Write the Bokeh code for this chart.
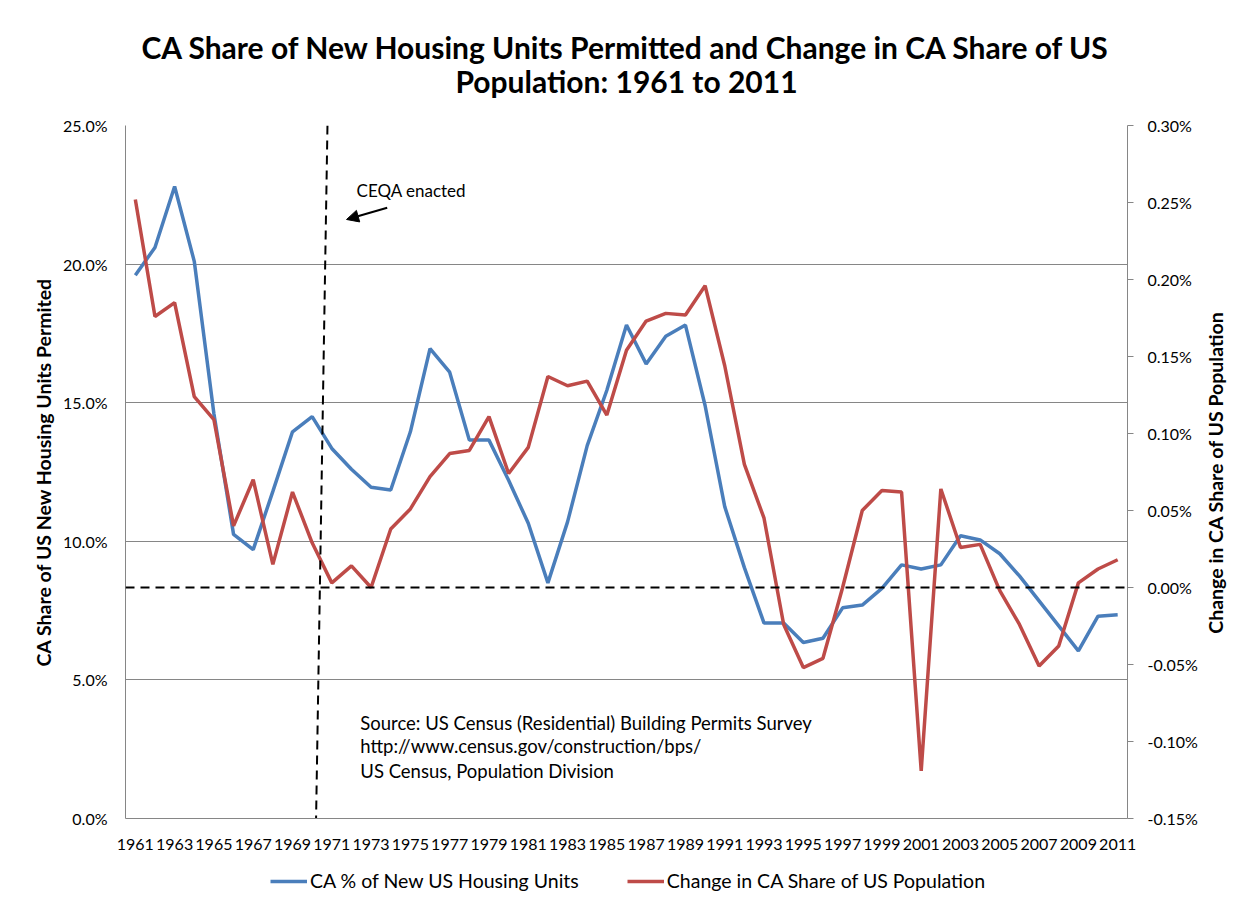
import math
from bokeh.plotting import figure
from bokeh.layouts import column, row
from bokeh.models import (Range1d, LinearAxis, FixedTicker, PrintfTickFormatter, Span, Label,
                          Arrow, NormalHead, Legend, LegendItem)
from bokeh.embed import file_html
from bokeh.resources import INLINE

years = list(range(1961, 2012))
ca_share_permits = [19.6, 20.6, 22.8, 20.1, 14.6, 10.25, 9.7, 11.8, 13.95, 14.5,
                    13.35, 12.6, 11.95, 11.85, 13.95, 16.95, 16.1, 13.65, 13.65, 12.2,
                    10.65, 8.5, 10.7, 13.45, 15.45, 17.8, 16.4, 17.4, 17.8, 14.9,
                    11.25, 9.05, 7.05, 7.05, 6.35, 6.5, 7.6, 7.7, 8.3, 9.15,
                    9.0, 9.15, 10.2, 10.05, 9.55, 8.75, 7.85, 6.95, 6.05, 7.3,
                    7.35]
ca_pop_share_change = [0.252, 0.176, 0.185, 0.124, 0.109, 0.040, 0.070, 0.015, 0.062, 0.029,
                       0.003, 0.014, 0.000, 0.038, 0.051, 0.072, 0.087, 0.089, 0.111, 0.074,
                       0.091, 0.137, 0.131, 0.134, 0.112, 0.154, 0.173, 0.178, 0.177, 0.196,
                       0.144, 0.080, 0.045, -0.024, -0.052, -0.046, 0.000, 0.050, 0.063, 0.062,
                       -0.119, 0.064, 0.026, 0.028, -0.002, -0.024, -0.051, -0.038, 0.003, 0.012,
                       0.018]
x_tick_years = list(range(1961, 2012, 2))
left_ticks = [0, 5, 10, 15, 20, 25]
right_ticks = [-0.15, -0.10, -0.05, 0.0, 0.05, 0.10, 0.15, 0.20, 0.25, 0.30]
series_names = ["CA % of New US Housing Units", "Change in CA Share of US Population"]
title_lines = ["CA Share of New Housing Units Permitted and Change in CA Share of US",
               "Population: 1961 to 2011"]
left_label = "CA Share of US New Housing Units Permited"
right_label = "Change in CA Share of US Population"

FONT = "Lato"
GRID = "#868686"
BLUE = "#4A7EBB"
RED = "#BE4B48"
W = 1200
FRAME_L, FRAME_R = 125, 1127


def bare(fig):
    fig.outline_line_color = None
    fig.xaxis.visible = False
    fig.yaxis.visible = False
    fig.xgrid.grid_line_color = None
    fig.ygrid.grid_line_color = None
    fig.background_fill_color = "white"
    fig.border_fill_color = "white"


# ---- title strip (frame is aligned with the chart frame) ----
pt = figure(width=W, height=100, output_backend="svg", toolbar_location=None,
            title_location=None, x_range=Range1d(FRAME_L, FRAME_R), y_range=Range1d(100, 0),
            min_border=0)
bare(pt)
for txt, yy in zip(title_lines, [46, 80]):
    pt.add_layout(Label(x=(FRAME_L + FRAME_R) / 2, y=yy, text=txt, text_font=FONT,
                        text_font_size="30px", text_font_style="bold", text_align="center",
                        text_baseline="middle", text_color="black"))

# ---- main chart ----
p = figure(width=W, height=762, output_backend="svg", toolbar_location=None,
           title_location=None,
           x_range=Range1d(1960.5, 2011.5), y_range=Range1d(0, 25),
           min_border_left=FRAME_L, min_border_right=W - FRAME_R, min_border_top=25,
           min_border_bottom=44)
p.extra_y_ranges = {"pop": Range1d(-0.15, 0.30)}
p.outline_line_color = None
p.background_fill_color = "white"
p.border_fill_color = "white"

xa = p.xaxis[0]
xa.ticker = FixedTicker(ticks=x_tick_years)
xa.formatter = PrintfTickFormatter(format="%d")
xa.major_tick_line_color = None
xa.minor_tick_line_color = None
xa.axis_line_color = GRID
xa.major_label_text_font = FONT
xa.major_label_text_font_size = "16px"
xa.major_label_text_color = "black"
xa.major_label_standoff = 14

ya = p.yaxis[0]
ya.ticker = FixedTicker(ticks=left_ticks)
ya.formatter = PrintfTickFormatter(format="%.1f%%")
ya.major_tick_line_color = None
ya.major_tick_out = 0
ya.major_tick_in = 0
ya.minor_tick_line_color = None
ya.axis_line_color = GRID
ya.major_label_text_font = FONT
ya.major_label_text_font_size = "16px"
ya.major_label_text_color = "black"
ya.major_label_standoff = 18
ya.axis_label = left_label
ya.axis_label_text_font = FONT
ya.axis_label_text_font_size = "19.5px"
ya.axis_label_text_font_style = "bold"
ya.axis_label_text_color = "black"
ya.axis_label_standoff = 5

ra = LinearAxis(y_range_name="pop", ticker=FixedTicker(ticks=right_ticks),
                formatter=PrintfTickFormatter(format="%.2f%%"))
ra.major_tick_line_color = GRID
ra.major_tick_out = 6
ra.major_tick_in = 0
ra.minor_tick_line_color = None
ra.axis_line_color = GRID
ra.major_label_text_font = FONT
ra.major_label_text_font_size = "16px"
ra.major_label_text_color = "black"
ra.major_label_standoff = 14
p.add_layout(ra, "right")

p.xgrid.grid_line_color = None
p.ygrid.grid_line_color = GRID
p.ygrid.grid_line_width = 1

r1 = p.line(years, ca_share_permits, line_color=BLUE, line_width=3.5)
r2 = p.line(years, ca_pop_share_change, y_range_name="pop", line_color=RED, line_width=3.5)

ZERO_CHANGE = 0.0
p.add_layout(Span(location=ZERO_CHANGE, dimension="width", y_range_name="pop",
                  line_color="black", line_width=2, line_dash="9 6"))
CEQA_TOP_X, CEQA_BOTTOM_X = 1970.78, 1970.2
p.segment(x0=[CEQA_TOP_X], y0=[25], x1=[CEQA_BOTTOM_X], y1=[0],
          line_color="black", line_width=2, line_dash="9 6")

p.add_layout(Label(x=1972.26, y=22.65, text="CEQA enacted", text_font=FONT,
                   text_font_size="17px", text_baseline="middle", text_color="black"))
p.add_layout(Arrow(end=NormalHead(size=12, fill_color="black", line_color="black"),
                   x_start=1973.82, y_start=22.03, x_end=1971.75, y_end=21.61,
                   line_color="black", line_width=2))

source_lines = ["Source: US Census (Residential) Building Permits Survey",
                "http://www.census.gov/construction/bps/",
                "US Census,  Population Division"]
source_y = [3.46, 2.6, 1.7]
for t, yy in zip(source_lines, source_y):
    p.add_layout(Label(x=1972.45, y=yy, text=t, text_font=FONT, text_font_size="18.5px",
                       text_baseline="middle", text_color="black"))

# ---- legend strip (same series drawn outside its empty range, legend only) ----
pl = figure(width=W, height=43, output_backend="svg", toolbar_location=None,
            title_location=None, x_range=Range1d(0, 1), y_range=Range1d(0, 1), min_border=0)
bare(pl)
l1 = pl.line(years, ca_share_permits, line_color=BLUE, line_width=3.5)
l2 = pl.line(years, ca_pop_share_change, line_color=RED, line_width=3.5)
legend = Legend(items=[LegendItem(label=series_names[0], renderers=[l1]),
                       LegendItem(label=series_names[1], renderers=[l2])],
                orientation="horizontal", location=(270 - FRAME_L, 13), border_line_color=None,
                label_text_font=FONT, label_text_font_size="19.5px", label_text_color="black",
                glyph_width=37, label_standoff=3, spacing=48, padding=0, margin=0,
                background_fill_alpha=0)
pl.add_layout(legend)

# ---- right axis title strip ----
RH = 905
pr = figure(width=40, height=RH, output_backend="svg", toolbar_location=None,
            title_location=None, x_range=Range1d(0, 40), y_range=Range1d(RH, 0), min_border=0)
bare(pr)
pr.add_layout(Label(x=15, y=472, text=right_label, angle=math.pi / 2, text_font=FONT,
                    text_font_size="19.5px", text_font_style="bold", text_align="center",
                    text_baseline="middle", text_color="black"))

layout = row(column(pt, p, pl, spacing=0), pr, spacing=0)
open("out.html", "w").write(file_html(layout, INLINE))
